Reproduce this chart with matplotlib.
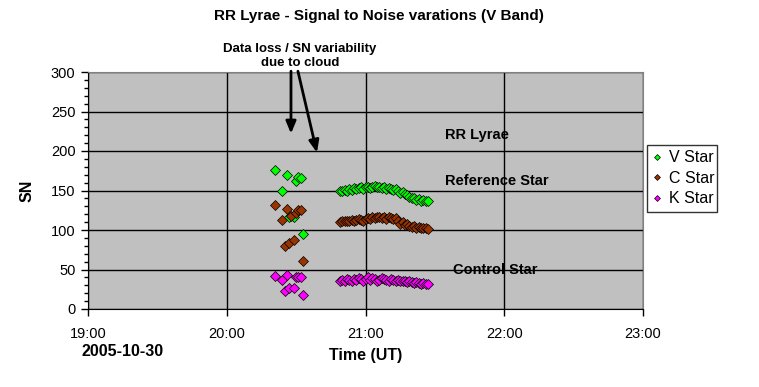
import matplotlib
matplotlib.use("Agg")
import matplotlib.pyplot as plt
from matplotlib.ticker import MultipleLocator, FuncFormatter

plt.rcParams['font.family'] = ['Liberation Sans', 'DejaVu Sans']

# first block, before the cloud (times UT, NaN = no point)
times_a = ["20:21", "20:24", "20:25", "20:26", "20:27", "20:28",
           "20:29", "20:30", "20:31", "20:32", "20:33"]
nan = float('nan')
v_a = [176, 149, nan, 170, 117, nan, 117, 162, 167, 166, 95]
c_a = [132, 113, 80, 127, 84, 118, 87, 121, 125, 125, 61]
k_a = [42, 37, 23, 43, 26, nan, 26, 40, 41, 40, 18]

# second block, clear sky
times_b = ["20:49", "20:50", "20:51", "20:52", "20:53", "20:54", "20:55",
           "20:56", "20:57", "20:58", "20:59", "21:00", "21:01", "21:02",
           "21:03", "21:04", "21:05", "21:06", "21:07", "21:08", "21:09",
           "21:10", "21:11", "21:12", "21:13", "21:14", "21:15", "21:16",
           "21:17", "21:18", "21:19", "21:20", "21:21", "21:22", "21:23",
           "21:24", "21:25", "21:26", "21:27"]
v_b = [149, 150, 151, 150, 152, 151, 153, 152, 153, 154, 152, 154, 155,
       153, 155, 156, 154, 155, 153, 154, 152, 153, 152, 151, 152, 150,
       147, 148, 145, 144, 142, 141, 140, 138, 139, 137, 138, 137, 137]
c_b = [110, 111, 112, 111, 112, 113, 112, 113, 114, 113, 112, 114, 115,
       114, 116, 115, 116, 117, 115, 116, 114, 116, 115, 114, 115, 112,
       108, 110, 106, 107, 105, 104, 105, 103, 104, 102, 103, 102, 101]
k_b = [36, 37, 36, 38, 37, 36, 38, 37, 39, 38, 36, 38, 40, 37, 39, 38,
       36, 37, 39, 38, 37, 36, 38, 37, 36, 37, 35, 36, 35, 34, 35, 34,
       33, 34, 33, 32, 33, 32, 32]

hour_ticks = [19, 20, 21, 22, 23]


def to_hours(t):
    h, m = t.split(":")
    return int(h) + int(m) / 60


x_all = [to_hours(t) for t in times_a + times_b]
series = [("V Star", v_a + v_b, "#00ff00"),
          ("C Star", c_a + c_b, "#993300"),
          ("K Star", k_a + k_b, "#ff00ff")]

fig = plt.figure(figsize=(7.59, 3.87), dpi=100)
ax = fig.add_axes([88 / 759, 1 - 309 / 387, 555 / 759, 237 / 387])
ax.set_facecolor("#c0c0c0")

for name, vals, col in series:
    ax.plot(x_all, vals, linestyle="none", marker="D", markersize=5,
            markerfacecolor=col, markeredgecolor="black",
            markeredgewidth=0.5, label=name)

ax.set_xlim(19, 23)
ax.set_ylim(0, 300)
ax.set_xticks(hour_ticks)
ax.xaxis.set_major_formatter(FuncFormatter(lambda v, p: f"{int(v)}:00"))
ax.yaxis.set_major_locator(MultipleLocator(50))
ax.yaxis.set_minor_locator(MultipleLocator(10))
ax.grid(True, which="major", color="black", linewidth=1)
ax.set_axisbelow(True)
ax.tick_params(axis="both", which="major", direction="out", length=5,
               width=1, labelsize=10.5, pad=4)
ax.tick_params(axis="x", which="major", pad=8)
ax.tick_params(axis="y", which="minor", direction="out", length=3, width=1)
for s in ["top", "right"]:
    ax.spines[s].set_color("#808080")
for s in ["left", "bottom"]:
    ax.spines[s].set_color("black")

ax.set_ylabel("SN", fontsize=11.5, fontweight="bold", labelpad=12)
ax.set_xlabel("Time (UT)", fontsize=11.5, fontweight="bold", labelpad=5)
fig.text(82 / 759, 1 - 352 / 387, "2005-10-30", fontsize=11.5,
         fontweight="bold", ha="left", va="center")

fig.text(379 / 759, 1 - 16 / 387,
         "RR Lyrae - Signal to Noise varations (V Band)",
         fontsize=11, fontweight="bold", ha="center", va="center")

ax.text(21.57, 220, "RR Lyrae", fontsize=10.5, fontweight="bold",
        ha="left", va="center")
ax.text(21.57, 162, "Reference Star", fontsize=10.5, fontweight="bold",
        ha="left", va="center")
ax.text(21.63, 49, "Control Star", fontsize=10.5, fontweight="bold",
        ha="left", va="center")

fig.text(300 / 759, 1 - 56 / 387, "Data loss / SN variability\ndue to cloud",
         fontsize=9.5, fontweight="bold", ha="center", va="center",
         linespacing=1.15)
ax.annotate("", xy=(20.463, 222), xytext=(20.463, 301),
            arrowprops=dict(arrowstyle="-|>,head_length=0.6,head_width=0.25",
                            color="black", lw=2, mutation_scale=12,
                            shrinkA=0, shrinkB=0),
            annotation_clip=False)
ax.annotate("", xy=(20.65, 198), xytext=(20.513, 301),
            arrowprops=dict(arrowstyle="-|>,head_length=0.6,head_width=0.25",
                            color="black", lw=2, mutation_scale=12,
                            shrinkA=0, shrinkB=0),
            annotation_clip=False)

leg = fig.legend(loc="lower left",
                 bbox_to_anchor=(647 / 759, 1 - 212 / 387, 70 / 759, 71 / 387),
                 mode="expand", frameon=True, fancybox=False,
                 edgecolor="black", fontsize=11.5, markerscale=0.6,
                 handlelength=0.5, handletextpad=0.5, borderpad=0.35,
                 labelspacing=0.35, borderaxespad=0)
leg.get_frame().set_linewidth(1)

plt.savefig("out.png", dpi=100)
